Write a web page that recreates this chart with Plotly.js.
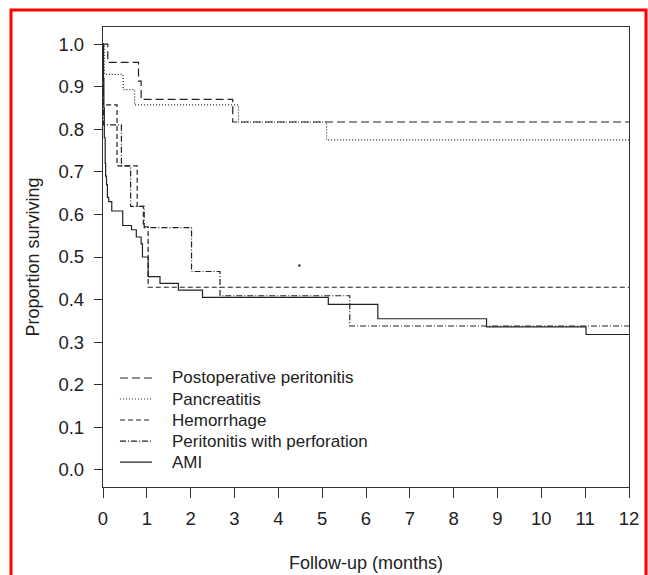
<!DOCTYPE html>
<html>
<head>
<meta charset="utf-8">
<script src="https://cdn.plot.ly/plotly-3.0.1.min.js"></script>
<style>
html,body{margin:0;padding:0;background:#fff;}
#chart{width:648px;height:575px;}
</style>
</head>
<body>
<div id="chart"></div>
<script>
// Kaplan-Meier step data (time in months, proportion surviving)
const postopTime = [0, 0.11, 0.81, 0.87, 2.96, 12];
const postopSurv = [1.0, 0.957, 0.913, 0.870, 0.817, 0.817];

const pancTime = [0, 0.03, 0.46, 0.72, 3.09, 5.10, 12];
const pancSurv = [1.0, 0.929, 0.893, 0.857, 0.817, 0.775, 0.775];

const hemTime = [0, 0.01, 0.32, 0.78, 0.92, 1.03, 12];
const hemSurv = [1.0, 0.857, 0.714, 0.619, 0.571, 0.429, 0.429];

const perfTime = [0, 0.01, 0.42, 0.63, 0.94, 2.02, 2.67, 5.63, 12];
const perfSurv = [1.0, 0.810, 0.714, 0.619, 0.569, 0.466, 0.409, 0.338, 0.338];

const amiTime = [0, 0.01, 0.02, 0.03, 0.05, 0.06, 0.08, 0.10, 0.13, 0.20, 0.45, 0.65, 0.76, 0.87, 0.90, 1.03, 1.30, 1.72, 2.27, 5.14, 6.27, 8.75, 11.02, 12];
const amiSurv = [1.0, 0.92, 0.85, 0.78, 0.72, 0.69, 0.67, 0.64, 0.63, 0.608, 0.574, 0.564, 0.547, 0.531, 0.500, 0.454, 0.438, 0.422, 0.405, 0.389, 0.355, 0.336, 0.318, 0.318];

const strayX = [4.48];
const strayY = [0.48];

const seriesNames = ["Postoperative peritonitis", "Pancreatitis", "Hemorrhage", "Peritonitis with perforation", "AMI"];
const xTicks = [0,1,2,3,4,5,6,7,8,9,10,11,12];
const yTicks = [0,0.1,0.2,0.3,0.4,0.5,0.6,0.7,0.8,0.9,1.0];

const FONT = "Liberation Sans, Arial, Helvetica, sans-serif";
const INK = "#222";
const DASHES = ["8px,4px", "1px,2px", "5px,3px", "6px,2px,1px,2px", "solid"];

function km(x, y, i) {
  return {
    x: x, y: y, name: seriesNames[i], type: "scatter", mode: "lines",
    line: {shape: "hv", color: INK, width: 1.2, dash: DASHES[i]},
    showlegend: false, hoverinfo: "skip"
  };
}

const data = [
  km(postopTime, postopSurv, 0),
  km(pancTime, pancSurv, 1),
  km(hemTime, hemSurv, 2),
  km(perfTime, perfSurv, 3),
  km(amiTime, amiSurv, 4),
  {x: strayX, y: strayY, type: "scatter", mode: "markers", showlegend: false,
   marker: {size: 2.5, color: "#333"}, hoverinfo: "skip"}
];

// Legend drawn in paper coordinates (R-style legend with tight row spacing)
const legX0 = 0.0323, legX1 = 0.0932, legTextX = 0.1274, legTop = 0.2370, legStep = 0.0457;
const legendShapes = seriesNames.map((n, i) => ({
  type: "line", xref: "paper", yref: "paper",
  x0: legX0, x1: legX1, y0: legTop - i * legStep, y1: legTop - i * legStep,
  line: {color: INK, width: 1.2, dash: DASHES[i]}
}));
const legendAnn = seriesNames.map((n, i) => ({
  text: n, xref: "paper", yref: "paper", x: legTextX, y: legTop - i * legStep,
  xanchor: "left", yanchor: "middle", showarrow: false,
  font: {family: FONT, size: 17, color: INK}
}));

const layout = {
  width: 648, height: 575,
  margin: {l: 103, r: 19, t: 27, b: 88, pad: 0},
  paper_bgcolor: "#fff", plot_bgcolor: "#fff",
  font: {family: FONT, size: 17, color: INK},
  showlegend: false,
  xaxis: {
    range: [0, 12], tickvals: xTicks, ticktext: xTicks.map(String),
    showgrid: false, zeroline: false,
    showline: true, mirror: true, linecolor: "#333", linewidth: 1.2,
    ticks: "outside", ticklen: 10, tickwidth: 1, tickcolor: "#333",
    ticklabelstandoff: 5,
    tickfont: {family: FONT, size: 18.5, color: INK},
    title: {text: "Follow-up (months)", font: {family: FONT, size: 18, color: INK}, standoff: 28}
  },
  yaxis: {
    range: [-0.04, 1.04], tickvals: yTicks, ticktext: yTicks.map(v => v.toFixed(1)),
    showgrid: false, zeroline: false,
    showline: true, mirror: true, linecolor: "#333", linewidth: 1.2,
    ticks: "outside", ticklen: 8, tickwidth: 1, tickcolor: "#333",
    ticklabelstandoff: 6,
    tickfont: {family: FONT, size: 18.5, color: INK},
    title: {text: "Proportion surviving", font: {family: FONT, size: 18, color: INK}, standoff: 14}
  },
  shapes: [
    {type: "rect", xref: "paper", yref: "paper",
     x0: -0.1749, x1: 1.0323, y0: -0.215, y1: 1.037,
     line: {color: "#ff0000", width: 3}, fillcolor: "rgba(0,0,0,0)", layer: "above"}
  ].concat(legendShapes),
  annotations: legendAnn
};

Plotly.newPlot("chart", data, layout, {displayModeBar: false, staticPlot: true});
</script>
</body>
</html>
